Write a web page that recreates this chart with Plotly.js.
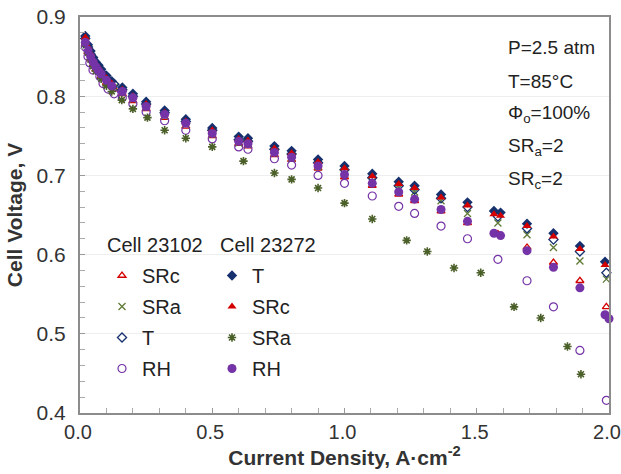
<!DOCTYPE html>
<html>
<head>
<meta charset="utf-8">
<script src="https://cdn.plot.ly/plotly-3.0.1.min.js"></script>
<style>html,body{margin:0;padding:0;background:#fff;}#chart{width:621px;height:474px;}</style>
</head>
<body>
<div id="chart"></div>
<script>
// ---- data ----
// Cell 23102
const c1_SRc_x = [0.02,0.03,0.04,0.05,0.06,0.08,0.10,0.13,0.16,0.20,0.25,0.32,0.40,0.50,0.60,0.635,0.735,0.80,0.90,1.00,1.105,1.205,1.265,1.365,1.465,1.58,1.69,1.79,1.89,1.99];
const c1_SRc_y = [0.866,0.856,0.847,0.840,0.834,0.825,0.817,0.809,0.803,0.794,0.784,0.773,0.762,0.750,0.740,0.737,0.726,0.720,0.709,0.698,0.687,0.676,0.668,0.655,0.640,0.626,0.609,0.590,0.567,0.534];
const c1_SRa_x = [0.02,0.03,0.04,0.05,0.06,0.08,0.10,0.13,0.16,0.20,0.25,0.32,0.40,0.50,0.60,0.635,0.735,0.80,0.90,1.00,1.105,1.205,1.265,1.365,1.465,1.58,1.69,1.79,1.89,1.99];
const c1_SRa_y = [0.870,0.859,0.850,0.843,0.836,0.827,0.819,0.811,0.804,0.796,0.786,0.775,0.764,0.752,0.741,0.739,0.728,0.722,0.711,0.702,0.692,0.684,0.679,0.668,0.652,0.640,0.625,0.609,0.592,0.569];
const c1_T_x = [0.02,0.03,0.04,0.05,0.06,0.08,0.10,0.13,0.16,0.20,0.25,0.32,0.40,0.50,0.60,0.635,0.735,0.80,0.90,1.00,1.105,1.205,1.265,1.365,1.465,1.58,1.69,1.79,1.89,1.99];
const c1_T_y = [0.873,0.862,0.853,0.846,0.840,0.831,0.823,0.815,0.808,0.800,0.790,0.779,0.768,0.757,0.745,0.743,0.733,0.727,0.716,0.707,0.697,0.687,0.682,0.671,0.660,0.648,0.633,0.619,0.604,0.577];
const c1_RH_x = [0.02,0.03,0.037,0.049,0.075,0.087,0.106,0.129,0.16,0.20,0.25,0.32,0.40,0.50,0.60,0.635,0.735,0.80,0.90,1.00,1.105,1.205,1.265,1.365,1.465,1.58,1.69,1.79,1.89,1.99];
const c1_RH_y = [0.862,0.850,0.842,0.833,0.825,0.816,0.809,0.803,0.798,0.790,0.780,0.769,0.757,0.746,0.736,0.733,0.721,0.713,0.700,0.690,0.674,0.661,0.652,0.636,0.620,0.594,0.567,0.534,0.479,0.416];
// Cell 23272
const c2_T_x = [0.02,0.03,0.04,0.05,0.06,0.07,0.08,0.10,0.12,0.16,0.20,0.25,0.32,0.40,0.50,0.60,0.635,0.735,0.80,0.90,1.00,1.105,1.205,1.265,1.365,1.465,1.565,1.59,1.69,1.79,1.89,1.985];
const c2_T_y = [0.876,0.865,0.857,0.849,0.843,0.839,0.834,0.826,0.819,0.811,0.803,0.793,0.782,0.771,0.760,0.749,0.747,0.737,0.731,0.720,0.712,0.702,0.692,0.687,0.676,0.666,0.655,0.653,0.639,0.627,0.611,0.591];
const c2_SRc_x = [0.02,0.03,0.04,0.05,0.06,0.07,0.08,0.10,0.12,0.16,0.20,0.25,0.32,0.40,0.50,0.60,0.635,0.735,0.80,0.90,1.00,1.105,1.205,1.265,1.365,1.465,1.565,1.59,1.69,1.79,1.89,1.985];
const c2_SRc_y = [0.874,0.862,0.854,0.846,0.840,0.836,0.831,0.823,0.816,0.808,0.800,0.790,0.779,0.768,0.757,0.746,0.744,0.734,0.728,0.717,0.709,0.699,0.689,0.684,0.672,0.662,0.651,0.649,0.636,0.623,0.607,0.587];
const c2_SRa_x = [0.02,0.03,0.04,0.05,0.06,0.08,0.10,0.12,0.158,0.20,0.255,0.32,0.40,0.50,0.618,0.735,0.80,0.90,1.00,1.105,1.235,1.313,1.414,1.515,1.641,1.742,1.843,1.894];
const c2_SRa_y = [0.866,0.855,0.846,0.838,0.832,0.822,0.813,0.806,0.795,0.784,0.773,0.757,0.747,0.736,0.718,0.703,0.695,0.684,0.665,0.645,0.618,0.604,0.583,0.577,0.534,0.520,0.484,0.449];
const c2_RH_x = [0.02,0.03,0.04,0.05,0.06,0.07,0.08,0.10,0.12,0.16,0.20,0.25,0.32,0.40,0.50,0.60,0.635,0.735,0.80,0.90,1.00,1.105,1.205,1.265,1.365,1.465,1.565,1.59,1.69,1.79,1.89,1.985,2.0];
const c2_RH_y = [0.868,0.858,0.850,0.843,0.837,0.832,0.828,0.820,0.813,0.806,0.798,0.787,0.777,0.766,0.753,0.743,0.740,0.729,0.723,0.712,0.701,0.690,0.679,0.670,0.657,0.642,0.627,0.624,0.605,0.584,0.558,0.524,0.519];

const legendHeaders = ["Cell 23102", "Cell 23272"];
const conditionLines = ["P=2.5 atm", "T=85°C", "Φ<sub>o</sub>=100%", "SR<sub>a</sub>=2", "SR<sub>c</sub>=2"];

// ---- styles ----
const NAVY = "#16306e", RED = "#d40000", GREEN = "#5f7a35", DKGREEN = "#4b5f28", PURPLE = "#7433a6";
const FONT = "Liberation Sans, Arial, sans-serif";

function tr(x, y, name, legend, group, symbol, color, size, lw) {
  return {
    type: "scatter", mode: "markers", x: x, y: y, name: name,
    legend: legend, legendgroup: group, cliponaxis: false,
    marker: {symbol: symbol, color: color, size: size, line: {color: color, width: lw}}
  };
}

const traces = [
  tr(c1_SRc_x, c1_SRc_y, "SRc", "legend", "a1", "triangle-up-open", RED, 7, 1.3),
  tr(c1_SRa_x, c1_SRa_y, "SRa", "legend", "a2", "x-thin-open", GREEN, 7, 1.3),
  tr(c1_T_x, c1_T_y, "T", "legend", "a3", "diamond-open", NAVY, 7, 1.3),
  tr(c1_RH_x, c1_RH_y, "RH", "legend", "a4", "circle-open", PURPLE, 8, 1.2),
  tr(c2_T_x, c2_T_y, "T", "legend2", "b1", "diamond", NAVY, 8, 0),
  tr(c2_SRc_x, c2_SRc_y, "SRc", "legend2", "b2", "triangle-up", RED, 8, 0),
  tr(c2_SRa_x, c2_SRa_y, "SRa", "legend2", "b3", "asterisk-open", DKGREEN, 7, 1.6),
  tr(c2_RH_x, c2_RH_y, "RH", "legend2", "b4", "circle", PURPLE, 9, 0)
];

const L = 80, R = 609, T = 17, B = 413;
const px = v => (v - L) / (R - L);
const py = v => (B - v) / (B - T);

const annotations = [];
legendHeaders.forEach((h, i) => {
  annotations.push({text: h, xref: "paper", yref: "paper", x: px([105, 218][i]), y: py(245),
    xanchor: "left", yanchor: "middle", showarrow: false, font: {family: FONT, size: 20, color: "#222"}});
});
const condY = [47, 81, 114, 147, 180];
conditionLines.forEach((t, i) => {
  annotations.push({text: t, xref: "paper", yref: "paper", x: px(506), y: py(condY[i]),
    xanchor: "left", yanchor: "middle", showarrow: false, font: {family: FONT, size: 19, color: "#222"}});
});

const legendCommon = {
  bgcolor: "rgba(0,0,0,0)", borderwidth: 0, font: {family: FONT, size: 20, color: "#222"},
  xanchor: "left", yanchor: "top", traceorder: "grouped", tracegroupgap: 2, itemwidth: 30
};

const layout = {
  width: 621, height: 474,
  margin: {l: L, r: 621 - R, t: T, b: 474 - B, pad: 0},
  paper_bgcolor: "#fff", plot_bgcolor: "#fff",
  font: {family: FONT, color: "#333"},
  showlegend: true,
  legend: Object.assign({}, legendCommon, {x: px(102), y: py(256)}),
  legend2: Object.assign({}, legendCommon, {x: px(212), y: py(256)}),
  xaxis: {
    range: [0, 2], dtick: 0.5, tick0: 0, tickformat: ".1f",
    ticks: "inside", ticklen: 5, tickcolor: "#999", tickwidth: 1,
    minor: {dtick: 0.1, ticks: "inside", ticklen: 5, tickcolor: "#aaa"},
    showline: true, linecolor: "#8c8c8c", linewidth: 2, mirror: true,
    showgrid: false, zeroline: false, ticklabeloverflow: "allow", ticklabelshift: -2,
    tickfont: {family: FONT, size: 20, color: "#333"},
    title: {text: "<b>Current Density, A·cm<sup>-2</sup></b>", font: {family: FONT, size: 21, color: "#333"}, standoff: 4}
  },
  yaxis: {
    range: [0.4, 0.9], dtick: 0.1, tick0: 0.4, tickformat: ".1f",
    ticks: "inside", ticklen: 5, tickcolor: "#999", tickwidth: 1,
    minor: {dtick: 0.02, ticks: "inside", ticklen: 5, tickcolor: "#aaa", showgrid: false},
    showline: true, linecolor: "#8c8c8c", linewidth: 2, mirror: true,
    showgrid: true, gridcolor: "#eeeeee", gridwidth: 1, zeroline: false,
    tickfont: {family: FONT, size: 21, color: "#333"}, ticklabelstandoff: 8,
    title: {text: "<b>Cell Voltage, V</b>", font: {family: FONT, size: 21, color: "#333"}, standoff: 8}
  },
  annotations: annotations
};

Plotly.newPlot("chart", traces, layout, {displayModeBar: false, staticPlot: true});
</script>
</body>
</html>
